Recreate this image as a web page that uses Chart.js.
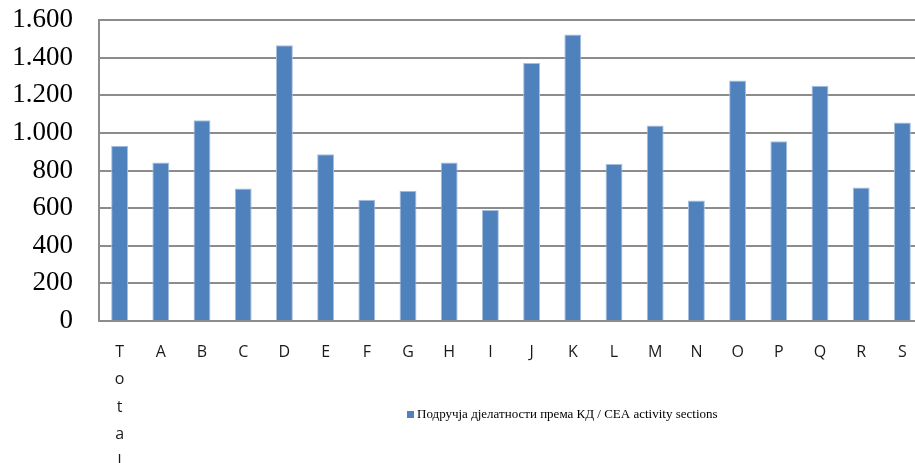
<!DOCTYPE html>
<html>
<head>
<meta charset="utf-8">
<script src="https://cdn.jsdelivr.net/npm/chart.js@4.4.1/dist/chart.umd.min.js"></script>
<style>
  html, body { margin: 0; padding: 0; background: #fff; overflow: hidden; }
  #wrap { width: 923px; height: 470px; }
</style>
</head>
<body>
<div id="wrap"><canvas id="barGraphic"></canvas></div>
<script>
// Data
const categories = ['Total', 'A', 'B', 'C', 'D', 'E', 'F', 'G', 'H', 'I',
                    'J', 'K', 'L', 'M', 'N', 'O', 'P', 'Q', 'R', 'S'];
const values = [932, 842, 1067, 704, 1466, 887, 644, 693, 842, 590,
                1372, 1523, 835, 1039, 640, 1278, 956, 1250, 709, 1055];
const seriesLabel = 'Подручја дјелатности према КД / CEA activity sections';
const yTicks = [0, 200, 400, 600, 800, 1000, 1200, 1400, 1600];

const barColor = '#4f81bd';
const gridColor = '#8c8c8c';

// Excel wraps the long label letter by letter in the narrow slot
const tickLabels = categories.map(c => c.length > 1 ? c.split('') : c);

const formatThousands = v => String(v).replace(/\B(?=(\d{3})+(?!\d))/g, '.');

// simple legend drawn under the plot, like the original
const legendPlugin = {
    id: 'sheetLegend',
    afterDraw(chart) {
        const ctx = chart.ctx;
        const ds = chart.data.datasets[0];
        ctx.save();
        ctx.fillStyle = ds.backgroundColor;
        ctx.fillRect(407, 411, 7, 7);
        ctx.fillStyle = '#000';
        ctx.font = '13px "Liberation Serif"';
        ctx.textBaseline = 'middle';
        ctx.fillText(ds.label, 417, 415);
        ctx.restore();
    }
};

let chart;

function startApp() {
    const ctx = document.getElementById('barGraphic').getContext('2d');

    chart = new Chart(ctx, {
        type: 'bar',
        data: {
            labels: tickLabels,
            datasets: [{
                label: seriesLabel,
                data: values,
                backgroundColor: barColor,
                borderColor: '#a7bfdf',
                borderWidth: 1,
                barPercentage: 0.41,
                categoryPercentage: 1.0
            }]
        },
        options: {
            responsive: true,
            maintainAspectRatio: false,
            animation: false,
            layout: { padding: { top: 20, left: 0, right: 0, bottom: 0 } },
            plugins: {
                legend: { display: false },
                tooltip: { enabled: false }
            },
            scales: {
                x: {
                    grid: { display: false },
                    border: { display: true, color: gridColor, width: 2 },
                    ticks: {
                        color: '#1a1a1a',
                        font: { family: '"Open Sans"', size: 16, lineHeight: 1.7 },
                        padding: 10,
                        maxRotation: 0,
                        autoSkip: false
                    },
                    afterFit: scale => {
                        scale.height = 149;
                        scale.paddingTop = 0;
                        scale.paddingBottom = 0;
                        scale.paddingRight = 0;
                    }
                },
                y: {
                    min: 0,
                    max: 1600,
                    afterBuildTicks: scale => {
                        scale.ticks = yTicks.map(v => ({ value: v }));
                    },
                    grid: { color: gridColor, lineWidth: 2, drawTicks: false },
                    border: { display: true, color: gridColor, width: 2 },
                    ticks: {
                        color: '#000',
                        font: { family: '"Liberation Serif"', size: 27 },
                        padding: 26,
                        autoSkip: false,
                        callback: v => formatThousands(v)
                    },
                    afterFit: scale => {
                        scale.width = 99;
                        scale.paddingTop = 0;
                        scale.paddingBottom = 0;
                    }
                }
            }
        },
        plugins: [legendPlugin]
    });
}

window.onload = startApp;
</script>
</body>
</html>
